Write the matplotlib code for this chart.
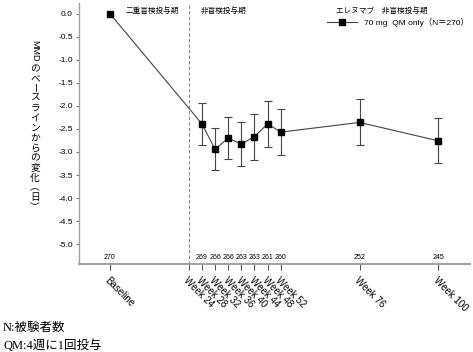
import matplotlib
matplotlib.use("Agg")
import matplotlib.pyplot as plt
from matplotlib.lines import Line2D

plt.rcParams['font.family'] = ['Liberation Sans', 'Noto Sans CJK JP']
plt.rcParams['axes.unicode_minus'] = False

# data
tick_weeks = [0, 24, 28, 32, 36, 40, 44, 48, 52, 76, 100]
tick_labels = ['Baseline', 'Week 24', 'Week 28', 'Week 32', 'Week 36', 'Week 40',
               'Week 44', 'Week 48', 'Week 52', 'Week 76', 'Week 100']
weeks = [0, 28, 32, 36, 40, 44, 48, 52, 76, 100]
mean = [0.0, -2.39, -2.94, -2.70, -2.83, -2.67, -2.39, -2.57, -2.36, -2.76]
upper = [0.0, -1.94, -2.48, -2.25, -2.36, -2.18, -1.90, -2.07, -1.85, -2.27]
lower = [0.0, -2.84, -3.39, -3.16, -3.30, -3.18, -2.89, -3.07, -2.86, -3.25]
n_subj = [270, 269, 266, 266, 263, 263, 261, 260, 252, 245]
yticks = [0.0, -0.5, -1.0, -1.5, -2.0, -2.5, -3.0, -3.5, -4.0, -4.5, -5.0]

W, H = 473, 352
def px(x, y):
    return x / W, 1 - y / H

fig = plt.figure(figsize=(W / 100, H / 100), dpi=100)
ax = fig.add_axes([79 / W, 1 - 264 / H, (470 - 79) / W, (264 - 3) / H])

# error bars (no bar at baseline)
e_w = weeks[1:]
e_m = mean[1:]
e_lo = [m - l for m, l in zip(e_m, lower[1:])]
e_hi = [u - m for m, u in zip(e_m, upper[1:])]
ax.errorbar(e_w, e_m, yerr=[e_lo, e_hi], fmt='none', ecolor='#444444',
            elinewidth=0.8, capsize=3, capthick=0.8, zorder=2)
ax.plot(weeks, mean, color='#444444', lw=0.8, marker='s', ms=4.5,
        mfc='black', mec='black', zorder=3)

ax.axvline(24, color='#888888', ls=(0, (3, 2)), lw=0.8, zorder=1)

ax.set_xlim(-9.4, 109.6)
ax.set_ylim(-5.43, 0.23)
ax.set_yticks(yticks)
ax.set_yticklabels(['%.1f' % v for v in yticks], fontsize=6)
ax.set_xticks(tick_weeks)
ax.set_xticklabels(tick_labels, fontsize=7, rotation=-45, ha='left', va='top',
                   rotation_mode='anchor')
ax.tick_params(axis='y', length=2.5, width=0.6, color='#555555', pad=2)
ax.tick_params(axis='x', length=4, width=0.6, color='#333333', pad=4)
for s in ['top', 'right']:
    ax.spines[s].set_visible(False)
ax.spines['left'].set_color('#a0a0a0')
ax.spines['left'].set_linewidth(1.0)
ax.spines['bottom'].set_color('#a0a0a0')
ax.spines['bottom'].set_linewidth(1.4)

for w, n in zip(weeks, n_subj):
    ax.annotate(str(n), xy=(w, 0), xycoords=('data', 'axes fraction'),
                xytext=(0, 2), textcoords='offset points',
                ha='center', va='bottom', fontsize=5)

# period labels
fig.text(*px(152, 11), '二重盲検投与期', fontsize=5.5, ha='center', va='center')
fig.text(*px(224, 11), '非盲検投与期', fontsize=5.5, ha='center', va='center')

# legend
fig.text(*px(336, 11), 'エレヌマブ　非盲検投与期', fontsize=5.5, ha='left', va='center')
h = Line2D([], [], color='#444444', lw=0.8, marker='s', ms=4, mfc='black', mec='black')
fig.legend([h], ['70 mg  QM only（N＝270）'], loc='center left',
           bbox_to_anchor=px(327, 22), frameon=False, fontsize=6,
           borderpad=0, borderaxespad=0, handlelength=3.6, handletextpad=0.8)

# vertical y-axis label
fig.text(*px(35, 51), 'MMD', fontsize=6.5, rotation=-90, ha='center', va='center')
ylab = 'のベースラインからの変化︵日︶'
for i, ch in enumerate(ylab):
    rot = -90 if ch == 'ー' else 0
    fig.text(*px(35, 68 + i * 9.95), ch, fontsize=7, rotation=rot,
             ha='center', va='center')

# footnotes
note_font = ['Liberation Serif', 'Noto Sans CJK JP']
fig.text(*px(3, 328), 'N:被験者数', fontsize=9, family=note_font, ha='left', va='center')
fig.text(*px(3, 346), 'QM:4週に1回投与', fontsize=9, family=note_font, ha='left', va='center')

fig.savefig('out.png', dpi=100)
